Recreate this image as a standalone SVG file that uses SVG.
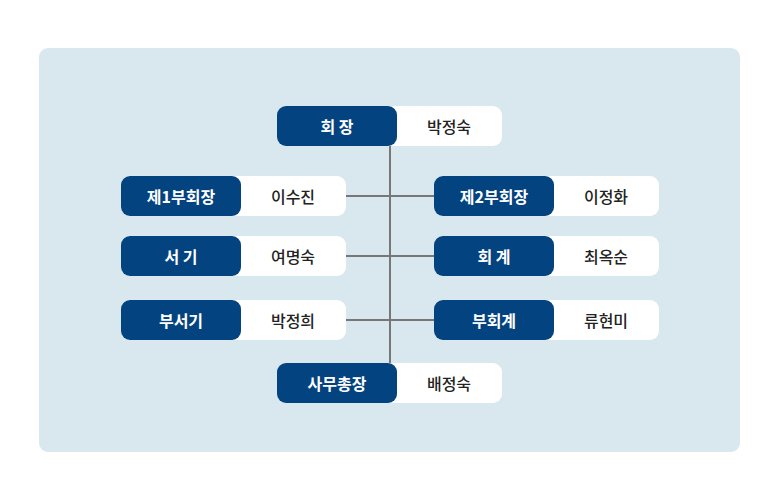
<svg xmlns="http://www.w3.org/2000/svg" width="779" height="502" viewBox="0 0 779 502">
<style>
.w{fill:#fff}.d{fill:#03437f}
.t{font-family:"Noto Sans CJK KR","Noto Sans",sans-serif;font-size:16px;text-anchor:middle;dominant-baseline:central}
.tw{fill:#fff;font-weight:bold}.tb{fill:#222;font-weight:500}
.c{stroke:#777;stroke-width:2;fill:none}
</style>
<rect width="779" height="502" fill="#fff"/>
<rect x="39" y="48" width="701" height="404" rx="9" fill="#d9e8ee"/>
<g id="connectors">
<path class="c" d="M390 146V363M346 196H434M346 256H434M346 320H434"/>
</g>
<g id="n1"><rect class="w" x="277" y="106" width="225" height="40" rx="9"/><rect class="d" x="277" y="106" width="120" height="40" rx="9"/><text class="t tw" x="337" y="126">회 장</text><text class="t tb" x="449" y="126">박정숙</text></g>
<g id="n2"><rect class="w" x="121" y="176" width="225" height="40" rx="9"/><rect class="d" x="121" y="176" width="120" height="40" rx="9"/><text class="t tw" x="181" y="196">제1부회장</text><text class="t tb" x="293" y="196">이수진</text></g>
<g id="n3"><rect class="w" x="434" y="176" width="225" height="40" rx="9"/><rect class="d" x="434" y="176" width="120" height="40" rx="9"/><text class="t tw" x="494" y="196">제2부회장</text><text class="t tb" x="606" y="196">이정화</text></g>
<g id="n4"><rect class="w" x="121" y="236" width="225" height="40" rx="9"/><rect class="d" x="121" y="236" width="120" height="40" rx="9"/><text class="t tw" x="181" y="256">서 기</text><text class="t tb" x="293" y="256">여명숙</text></g>
<g id="n5"><rect class="w" x="434" y="236" width="225" height="40" rx="9"/><rect class="d" x="434" y="236" width="120" height="40" rx="9"/><text class="t tw" x="494" y="256">회 계</text><text class="t tb" x="606" y="256">최옥순</text></g>
<g id="n6"><rect class="w" x="121" y="300" width="225" height="40" rx="9"/><rect class="d" x="121" y="300" width="120" height="40" rx="9"/><text class="t tw" x="181" y="320">부서기</text><text class="t tb" x="293" y="320">박정희</text></g>
<g id="n7"><rect class="w" x="434" y="300" width="225" height="40" rx="9"/><rect class="d" x="434" y="300" width="120" height="40" rx="9"/><text class="t tw" x="494" y="320">부회계</text><text class="t tb" x="606" y="320">류현미</text></g>
<g id="n8"><rect class="w" x="277" y="363" width="225" height="40" rx="9"/><rect class="d" x="277" y="363" width="120" height="40" rx="9"/><text class="t tw" x="337" y="383">사무총장</text><text class="t tb" x="449" y="383">배정숙</text></g>
</svg>
